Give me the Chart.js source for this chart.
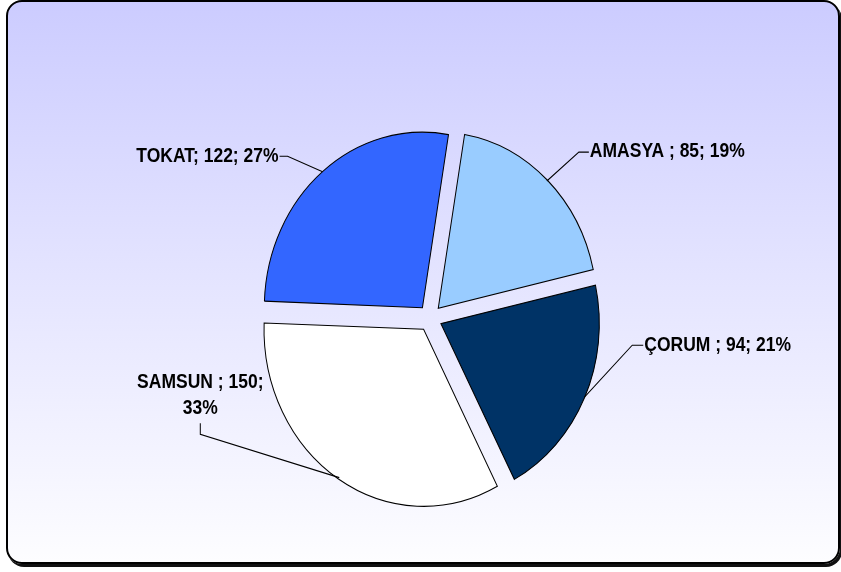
<!DOCTYPE html>
<html>
<head>
<meta charset="utf-8">
<script src="https://cdn.jsdelivr.net/npm/chart.js@4.4.1/dist/chart.umd.min.js"></script>
<style>
html, body { margin: 0; padding: 0; background: #fff; overflow: hidden; }
#wrap { position: relative; width: 841px; height: 572px; }
#frame {
    position: absolute; left: 6px; top: 0; width: 834px; height: 564px;
    box-sizing: border-box; border: 2px solid #000; border-radius: 16px;
    box-shadow: 2px 3px 0 #111;
    background: linear-gradient(#ccccff, #fdfdff);
}
canvas { position: absolute; left: 0; top: 0; }
</style>
</head>
<body>
<div id="wrap">
    <div id="frame"></div>
    <canvas id="myChart" width="841" height="572"></canvas>
</div>
<script>
const categories = ['AMASYA ', 'ÇORUM ', 'SAMSUN ', 'TOKAT']
const values = [85, 94, 150, 122]
const colors = ['#99CCFF', '#003366', '#FFFFFF', '#3366FF']

// the original pie is a little taller than it is wide
const STRETCH_Y = 1.11
const LABEL_FONT = 'bold 17.5px "Liberation Sans", Arial, sans-serif'

// where each leader line bends, relative to the slice edge (unstretched px)
const leaders = [
    { dx: 32, dy: -26, tail: 10, align: 'left' },
    { dx: 48, dy: -47, tail: 11, align: 'left' },
    { dx: -139, dy: -39, tail: 10, align: 'above' },
    { dx: -35, dy: -14, tail: 8, align: 'right' }
]

const total = values.reduce((a, b) => a + b, 0)
const pct = i => Math.round(values[i] / total * 100) + '%'

const stretch = {
    id: 'stretch',
    beforeDraw(chart) {
        chart.ctx.save()
        chart.ctx.scale(1, STRETCH_Y)
    },
    afterDraw(chart) {
        chart.ctx.restore()
    }
}

const pieLabels = {
    id: 'pieLabels',
    afterDatasetsDraw(chart) {
        const ctx = chart.ctx
        const arcs = chart.getDatasetMeta(0).data
        ctx.save()
        ctx.strokeStyle = '#000'
        ctx.fillStyle = '#000'
        ctx.lineWidth = 1
        ctx.font = LABEL_FONT
        arcs.forEach((arc, i) => {
            const mid = (arc.startAngle + arc.endAngle) / 2
            const r = arc.outerRadius + arc.options.offset / 4
            const ax = arc.x + Math.cos(mid) * r
            const ay = arc.y + Math.sin(mid) * r
            const l = leaders[i]
            const bx = ax + l.dx
            const by = ay + l.dy
            ctx.beginPath()
            ctx.moveTo(ax, ay)
            ctx.lineTo(bx, by)
            if (l.align === 'above') {
                ctx.lineTo(bx, by - l.tail)
                ctx.stroke()
                ctx.textAlign = 'center'
                ctx.textBaseline = 'alphabetic'
                const base = by - l.tail - 8
                ctx.fillText(categories[i] + '; ' + values[i] + ';', bx, base - 24)
                ctx.fillText(pct(i), bx, base)
            } else {
                const dir = l.align === 'left' ? 1 : -1
                ctx.lineTo(bx + dir * l.tail, by)
                ctx.stroke()
                ctx.textAlign = l.align
                ctx.textBaseline = 'middle'
                ctx.fillText(categories[i] + '; ' + values[i] + '; ' + pct(i), bx + dir * (l.tail + 1), by)
            }
        })
        ctx.restore()
    }
}

const chart = new Chart(document.getElementById('myChart'), {
    type: 'pie',
    data: {
        labels: categories,
        datasets: [{
            data: values,
            backgroundColor: colors,
            borderColor: '#000',
            borderWidth: 1,
            borderJoinStyle: 'miter',
            offset: 48,
            clip: false
        }]
    },
    options: {
        responsive: false,
        animation: false,
        rotation: 9.5,
        radius: 158,
        layout: {
            padding: { left: 19, right: 0, top: 1, bottom: 0 }
        },
        plugins: {
            legend: { display: false },
            tooltip: { enabled: false }
        }
    },
    plugins: [stretch, pieLabels]
})
</script>
</body>
</html>
